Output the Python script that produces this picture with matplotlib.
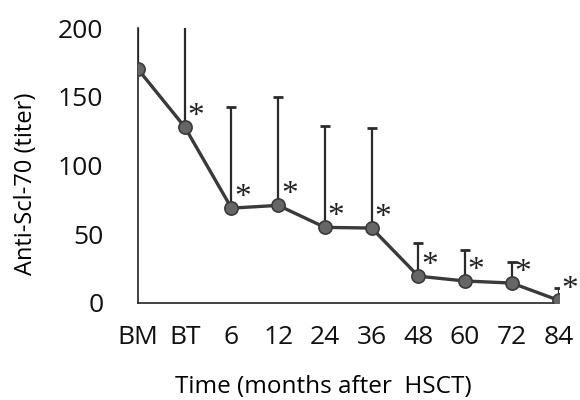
import matplotlib
matplotlib.use("Agg")
import matplotlib.pyplot as plt
import numpy as np

# values
time_labels = ['BM', 'BT', '6', '12', '24', '36', '48', '60', '72', '84']
mean_titer = [170, 128, 69, 71, 55, 54.5, 19.5, 16, 14.5, 2]
upper_sd = [240, 240, 142.5, 150, 129, 127, 44, 38.5, 30, 11]
significant = [False, True, True, True, True, True, True, True, True, True]

plt.rcParams['font.family'] = ['Open Sans', 'DejaVu Sans']

fig = plt.figure(figsize=(5.8, 4), dpi=100)
ax = fig.add_axes([0.238, 0.2425, 0.725, 0.6875])

x = np.arange(len(time_labels))
err_up = np.array(upper_sd) - np.array(mean_titer)
ax.errorbar(x, mean_titer, yerr=[np.zeros(len(x)), err_up], fmt='none',
            ecolor='#2a2a2a', elinewidth=1.6, capsize=3.5, capthick=2, zorder=2)
ax.plot(x, mean_titer, color='#3a3a3a', linewidth=2.4, marker='o',
        markersize=9.5, markerfacecolor='#666666', markeredgecolor='#3a3a3a',
        markeredgewidth=1.2, zorder=3)

# significance stars, upper right of each point
for xi, yi, sig in zip(x, mean_titer, significant):
    if sig:
        ax.annotate('*', (xi, yi), xytext=(8, 1.5), textcoords='offset points',
                    fontsize=24, family='Liberation Serif', color='#222222',
                    ha='center', va='baseline', annotation_clip=False)

ax.set_xlim(0, 9)
ax.set_ylim(0, 200)
ax.set_yticks([0, 50, 100, 150, 200])
ax.set_xticks(x)
ax.set_xticklabels(time_labels)
ax.tick_params(axis='both', length=0, labelsize=19, colors='#111111')
ax.tick_params(axis='y', pad=25)
ax.tick_params(axis='x', pad=16)
for side in ['top', 'right']:
    ax.spines[side].set_visible(False)
for side in ['left', 'bottom']:
    ax.spines[side].set_color('#222222')
    ax.spines[side].set_linewidth(1.2)

ax.set_ylabel('Anti-Scl-70 (titer)', fontsize=17, va='center')
ax.yaxis.set_label_coords(-0.267, 0.433)
ax.set_xlabel('Time (months after  HSCT)', fontsize=17.5, va='baseline')
ax.xaxis.set_label_coords(0.44, -0.327)

plt.savefig('out.png', dpi=100)
